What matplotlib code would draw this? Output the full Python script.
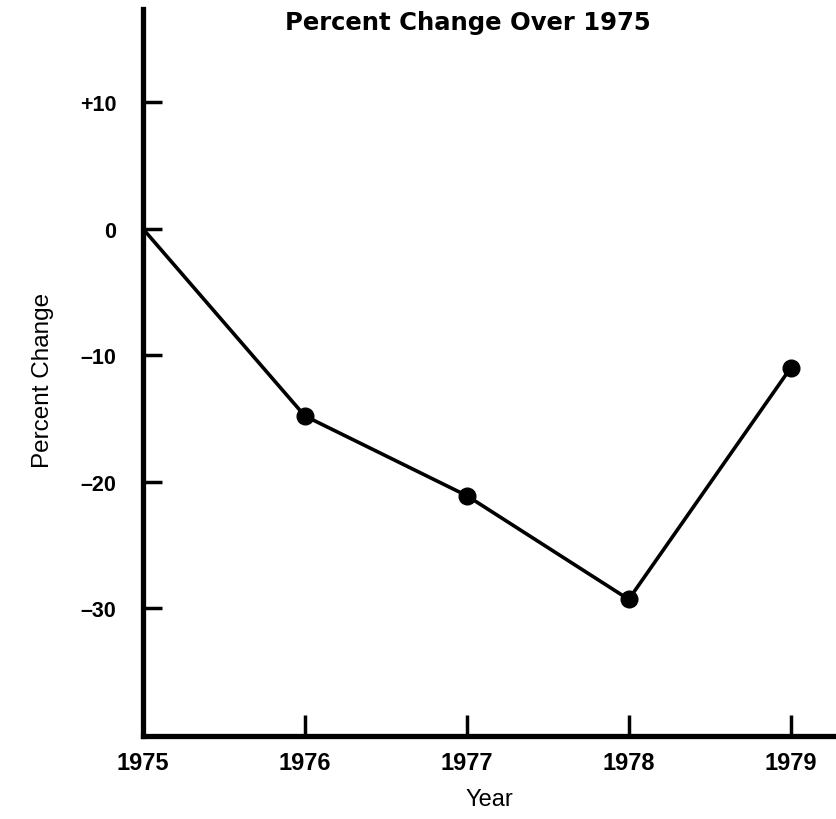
import matplotlib
matplotlib.use('Agg')
import matplotlib.pyplot as plt

# values
years = [1975, 1976, 1977, 1978, 1979]
pct_change = [0.0, -14.8, -21.1, -29.3, -11.0]
year_labels = ['1975', '1976', '1977', '1978', '1979']
y_ticks = [10, 0, -10, -20, -30]
y_tick_labels = ['+10', '0', '–10', '–20', '–30']

title = 'Percent Change Over 1975'

plt.rcParams['font.family'] = ['Liberation Sans', 'DejaVu Sans']

fig = plt.figure(figsize=(8.36, 8.2), dpi=100)
ax = fig.add_axes([0.171, 0.1012, 0.829, 0.887])

# line from 1975 baseline, dots only on the later years
ax.plot(years, pct_change, color='black', lw=2.6, solid_capstyle='round', zorder=3)
ax.plot(years[1:], pct_change[1:], 'o', color='black', markersize=12, zorder=4)

ax.set_xlim(1975, 1979.28)
ax.set_ylim(-40.1, 17.4)

for side in ['top', 'right']:
    ax.spines[side].set_visible(False)
for side in ['left', 'bottom']:
    ax.spines[side].set_linewidth(3.8)
    ax.spines[side].set_capstyle('projecting')

ax.set_xticks(years)
ax.set_xticklabels(year_labels, fontsize=17, fontweight='bold')
ax.set_yticks(y_ticks)
ax.set_yticklabels(y_tick_labels, fontsize=15.5, fontweight='bold')
ax.tick_params(axis='x', direction='in', length=15, width=2.5, pad=11)
ax.tick_params(axis='y', direction='in', length=14, width=2.5, pad=19)

ax.set_xlabel('Year', fontsize=17)
ax.set_ylabel('Percent Change', fontsize=17.5)
ax.yaxis.set_label_coords(-0.128, 0.49)
ax.xaxis.set_label_coords(0.5, -0.072)

fig.text(0.56, 0.963, title, ha='center', va='baseline',
         fontsize=17.5, fontweight='bold', family='DejaVu Sans')

fig.savefig('out.png', dpi=100)
